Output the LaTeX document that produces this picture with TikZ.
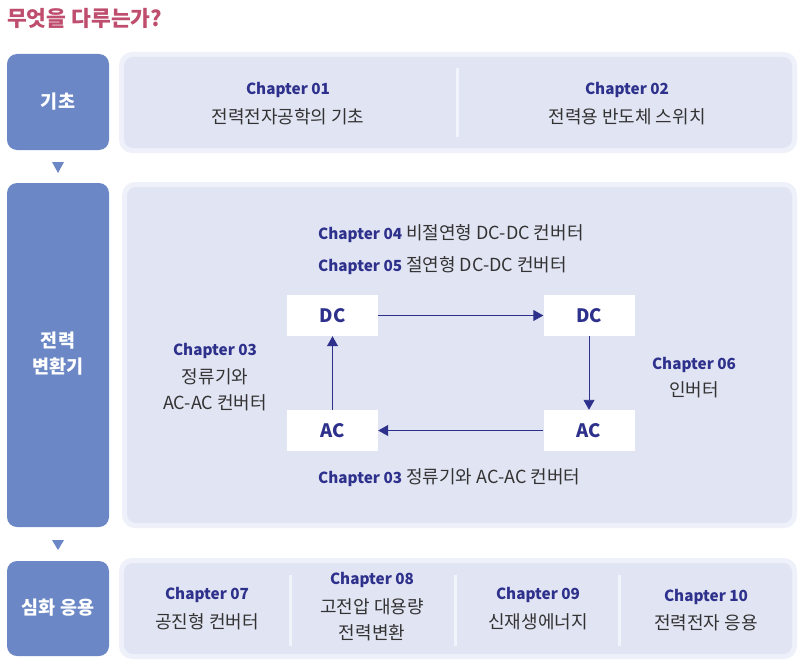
\documentclass[tikz,border=0pt]{standalone}
\usepackage{fontspec}
\setmainfont{Noto Sans CJK KR}
\usetikzlibrary{arrows.meta}
\definecolor{titlec}{HTML}{BF4E6E}
\definecolor{leftc}{HTML}{6B87C5}
\definecolor{panelin}{HTML}{E1E4F3}
\definecolor{panelout}{HTML}{EEF1F9}
\definecolor{navy}{HTML}{2E318C}
\definecolor{bodyc}{HTML}{333333}
\definecolor{divc}{HTML}{F2F4FB}
\tikzset{
  leftbox/.style={fill=leftc, rounded corners=10pt},
  pout/.style={fill=panelout, rounded corners=13pt},
  pin/.style={fill=panelin, rounded corners=9pt},
  divline/.style={draw=divc, line width=3pt},
  tri/.style={fill=leftc},
  lefttxt/.style={text=white, font=\fontsize{18.5}{26}\selectfont\bfseries, align=center},
  chap/.style={text=navy, font=\fontsize{15.3}{18}\selectfont\bfseries},
  body/.style={text=bodyc, font=\fontsize{18}{25.5}\selectfont, align=center},
  cbox/.style={fill=white, minimum width=91pt, minimum height=41pt, inner sep=0pt, text=navy, font=\fontsize{18.5}{20}\selectfont\bfseries},
  flow/.style={draw=navy, line width=0.9pt, -{Triangle[length=10pt,width=11pt]}}
}
\newcommand{\ch}[1]{{\color{navy}\fontsize{15.3}{18}\selectfont\bfseries #1}}
\begin{document}
\begin{tikzpicture}[x=1pt,y=-1pt]
\useasboundingbox (0,0) rectangle (800,666);
% title
\node[anchor=west, text=titlec, font=\fontsize{21.5}{24}\selectfont\bfseries, inner sep=0pt] (title) at (7,18) {무엇을 다루는가?};
% left boxes
\fill[leftbox] (7,54) rectangle (109,150);
\fill[leftbox] (7,183) rectangle (109,527);
\fill[leftbox] (7,561) rectangle (109,656);
\node[lefttxt] (l1) at (58,102) {기초};
\node[lefttxt] (l2) at (58,354) {전력\\변환기};
\node[lefttxt] (l3) at (58,608) {심화 응용};
% triangles
\fill[tri] (52,162) -- (64,162) -- (58,173) -- cycle;
\fill[tri] (52,540) -- (64,540) -- (58,550) -- cycle;
% panels
\fill[pout] (119,52) rectangle (797,153);
\fill[pin] (124,57) rectangle (792,148);
\fill[pout] (122,182) rectangle (797,528);
\fill[pin] (127,187) rectangle (792,523);
\fill[pout] (119,558) rectangle (797,659);
\fill[pin] (124,563) rectangle (792,654);
% dividers
\draw[divline] (457,68) -- (457,137);
\draw[divline] (290,575) -- (290,646);
\draw[divline] (455,575) -- (455,646);
\draw[divline] (619,575) -- (619,646);
% panel 1
\node[chap] (c1) at (288,90) {Chapter 01};
\node[body] (t1) at (288,117) {전력전자공학의 기초};
\node[chap] (c2) at (627,90) {Chapter 02};
\node[body] (t2) at (627,117) {전력용 반도체 스위치};
% panel 2
\node[body, anchor=west, inner sep=0pt] (c4) at (318,234) {\ch{Chapter 04} 비절연형 DC-DC 컨버터};
\node[body, anchor=west, inner sep=0pt] (c5) at (318,266) {\ch{Chapter 05} 절연형 DC-DC 컨버터};
\node[body, anchor=west, inner sep=0pt] (c3b) at (318,478) {\ch{Chapter 03} 정류기와 AC-AC 컨버터};
\node[cbox] (dcl) at (332.5,315.5) {DC};
\node[cbox] (dcr) at (589,315.5) {DC};
\node[cbox] (acl) at (332.5,430.5) {AC};
\node[cbox] (acr) at (589,430.5) {AC};
\draw[flow] (dcl) -- (dcr);
\draw[flow] (dcr) -- (acr);
\draw[flow] (acr) -- (acl);
\draw[flow] (acl) -- (dcl);
\node[chap] (c3) at (215,351) {Chapter 03};
\node[body] (t3) at (215,390) {정류기와\\AC-AC 컨버터};
\node[chap] (c6) at (694,365) {Chapter 06};
\node[body] (t6) at (694,390) {인버터};
% panel 3
\node[chap] (c7) at (207,595) {Chapter 07};
\node[body] (t7) at (207,622) {공진형 컨버터};
\node[chap] (c8) at (372,580) {Chapter 08};
\node[body] (t8) at (372,620) {고전압 대용량\\전력변환};
\node[chap] (c9) at (538,595) {Chapter 09};
\node[body] (t9) at (538,622) {신재생에너지};
\node[chap] (c10) at (706,597) {Chapter 10};
\node[body] (t10) at (706,623) {전력전자 응용};
\end{tikzpicture}
\end{document}
